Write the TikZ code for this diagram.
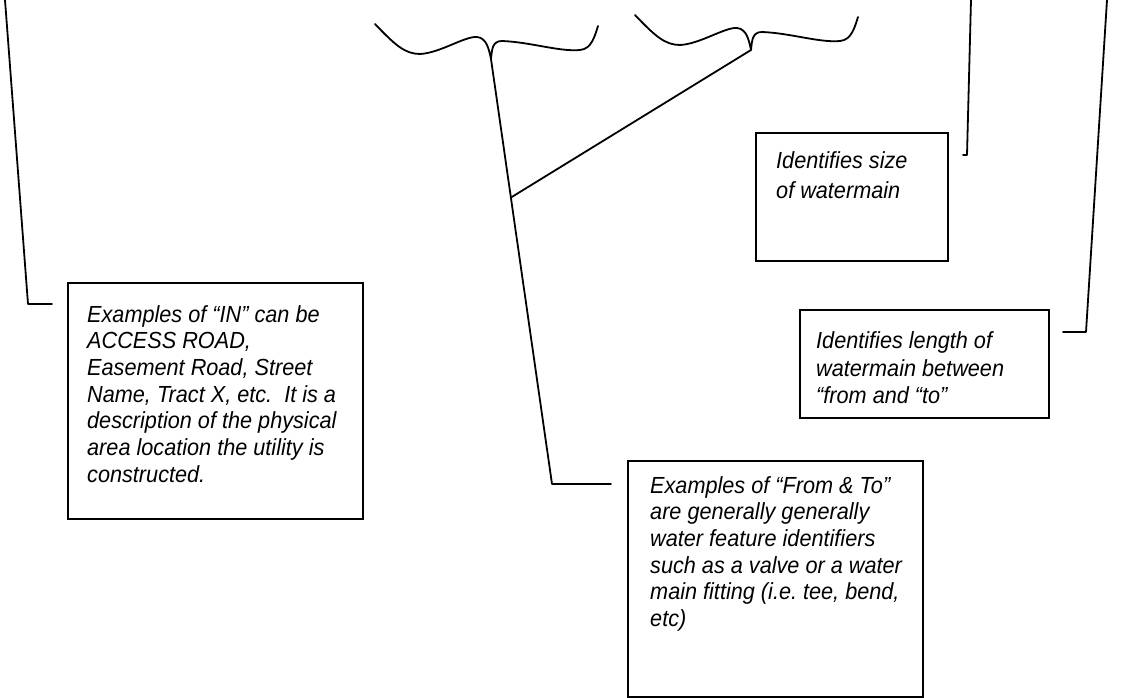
\documentclass[tikz,border=0pt]{standalone}
\usepackage{fontspec}
\setmainfont{Liberation Sans}
\newfontfamily\labfont[FakeStretch=0.93]{Liberation Sans}
\frenchspacing
\usetikzlibrary{calc}
\begin{document}
\begin{tikzpicture}[x=1pt,y=-1pt,
  ln/.style={line width=1.8pt, line join=round, line cap=round},
  box/.style={draw, line width=1.8pt, inner sep=0pt, anchor=north west},
  txt/.style={anchor=north west, inner sep=0pt, align=left},
  wbrace/.pic={\draw[ln] (-116,-35) .. controls (-96,-14) and (-86,-5) .. (-71,-5)
     .. controls (-51,-6) and (-26,-23) .. (-14,-22)
     .. controls (-4,-21) and (-2,-9) .. (0,0)
     .. controls (1,-9) and (1,-18) .. (11,-18)
     .. controls (39,-17) and (69,-7) .. (89,-9)
     .. controls (101,-10) and (104,-24) .. (107,-33);}]
\useasboundingbox (0,0) rectangle (1144,698);

% boxes
\node[box, minimum width=295pt, minimum height=236pt] (inbox) at (67,282) {};
\node[box, minimum width=192pt, minimum height=128pt] (sizebox) at (755,132) {};
\node[box, minimum width=249pt, minimum height=108pt] (lenbox) at (799,309) {};
\node[box, minimum width=295pt, minimum height=236pt] (ftbox) at (627,460) {};

% texts
\node[txt, font=\labfont\itshape\fontsize{23.3}{26.7}\selectfont] (intext) at (87,305)
  {Examples of “IN” can be\\ACCESS ROAD,\\Easement Road, Street\\Name, Tract X, etc.\ \ It is a\\description of the physical\\area location the utility is\\constructed.};
\node[txt, font=\labfont\itshape\fontsize{23.3}{30}\selectfont] (sizetext) at (776,151.6)
  {Identifies size\\of watermain};
\node[txt, font=\labfont\itshape\fontsize{23.3}{27.5}\selectfont] (lentext) at (816,331.6)
  {Identifies length of\\watermain between\\“from and “to”};
\node[txt, font=\labfont\itshape\fontsize{23.3}{26.7}\selectfont] (fttext) at (650,476)
  {Examples of “From \& To”\\are generally generally\\water feature identifiers\\such as a valve or a water\\main fitting (i.e. tee, bend,\\etc)};

% braces
\coordinate (tipA) at (491,59);
\coordinate (tipB) at (751,50);
\pic at (tipA) {wbrace};
\pic at (tipB) {wbrace};

% leader lines
\coordinate (inTop) at (5,0);
\coordinate (inElbow) at (28,304);
\coordinate (inEnd) at (52,304);
\draw[ln] (inTop) -- (inElbow) -- (inEnd);

\coordinate (ftElbow) at (552,484);
\coordinate (ftEnd) at (611,484);
\draw[ln] (tipA) -- (ftElbow) -- (ftEnd);
\coordinate (joinPt) at ($(tipA)!0.326!(ftElbow)$);
\draw[ln] (tipB) -- (joinPt);

\coordinate (sizeTop) at (971,0);
\coordinate (sizeElbow) at (967,155);
\coordinate (sizeEnd) at (963,155);
\draw[ln] (sizeTop) -- (sizeElbow) -- (sizeEnd);

\coordinate (lenTop) at (1107,0);
\coordinate (lenElbow) at (1086,332);
\coordinate (lenEnd) at (1063,332);
\draw[ln] (lenTop) -- (lenElbow) -- (lenEnd);
\end{tikzpicture}
\end{document}
